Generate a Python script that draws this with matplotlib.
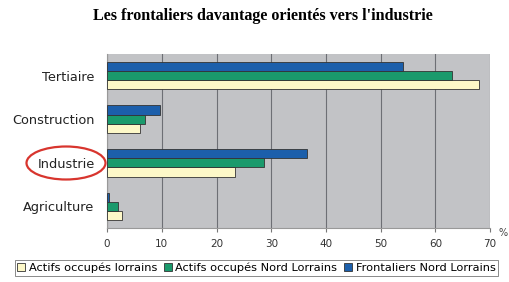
import matplotlib
matplotlib.use("Agg")
import matplotlib.pyplot as plt
from matplotlib.patches import Ellipse
import numpy as np

categories = ["Agriculture", "Industrie", "Construction", "Tertiaire"]
series_names = ["Actifs occupés lorrains", "Actifs occupés Nord Lorrains", "Frontaliers Nord Lorrains"]
actifs_lorrains = [2.7, 23.4, 6.0, 68.0]
actifs_nord = [2.0, 28.6, 7.0, 63.0]
frontaliers = [0.4, 36.5, 9.7, 54.0]
xticks = [0, 10, 20, 30, 40, 50, 60, 70]

colors = ["#fdf8c8", "#1a9a6c", "#1c5fab"]

fig = plt.figure(figsize=(5.10, 2.82), dpi=100)
ax = fig.add_axes([0.21, 0.191, 0.751, 0.618])
ax.set_facecolor("#c2c3c6")

y = np.arange(len(categories))
h = 0.21
for i, (vals, c, name) in enumerate(zip([actifs_lorrains, actifs_nord, frontaliers], colors, series_names)):
    ax.barh(y + (i - 1) * h, vals, height=h, color=c, edgecolor="#333333", linewidth=0.6, label=name, zorder=3)

ax.set_xlim(0, 70)
ax.set_ylim(-0.5, 3.5)
ax.set_xticks(xticks)
ax.set_xticklabels([str(t) for t in xticks], fontsize=7.5, color="#333333")
ax.set_yticks(y)
ax.set_yticklabels(categories, fontsize=9.3, color="#222222")
ax.xaxis.grid(True, color="#6d6f75", linewidth=0.8, zorder=1)
ax.tick_params(axis="y", length=0, pad=9)
ax.tick_params(axis="x", length=3, color="#777777", pad=5)
for s in ["top", "right"]:
    ax.spines[s].set_visible(False)
ax.spines["left"].set_color("#999999")
ax.spines["bottom"].set_color("#999999")

ax.text(71.5, -0.5, "%", fontsize=7, color="#444444", va="top", ha="left")

fig.text(0.515, 0.945, "Les frontaliers davantage orientés vers l'industrie",
         ha="center", va="center", fontsize=11.6, fontweight="bold", family="Liberation Serif")

leg = fig.legend(loc="lower center", bbox_to_anchor=(0.503, 0.0), ncol=3, fontsize=8.2,
                 frameon=True, fancybox=False, edgecolor="#555555", handlelength=0.7,
                 handleheight=0.7, handletextpad=0.3, columnspacing=0.6, borderpad=0.25)
leg.get_frame().set_linewidth(0.6)

fig.add_artist(Ellipse((66 / 510, 1 - 163 / 282), 79 / 510, 33 / 282,
                       transform=fig.transFigure, fill=False, edgecolor="#d8352e", linewidth=1.6))

fig.savefig("out.png", dpi=100, facecolor="white")
